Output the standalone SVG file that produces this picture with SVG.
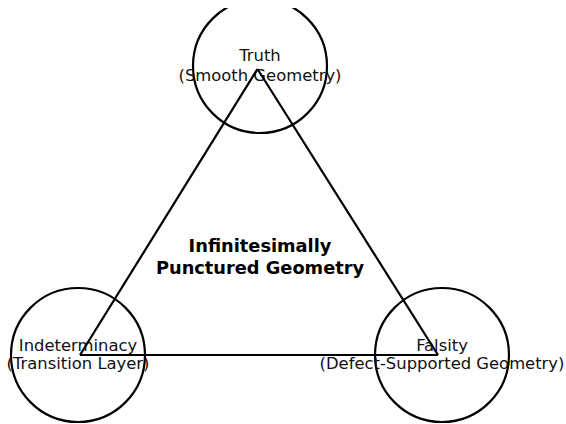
<svg xmlns="http://www.w3.org/2000/svg" width="566" height="424" viewBox="0 0 566 424">
<defs>
<style>
.circ{fill:none;stroke:#000;stroke-width:2.2}
.lbl{font-family:"DejaVu Sans",sans-serif;font-size:16.4px;fill:#111;text-anchor:middle}
.ctr{font-family:"DejaVu Sans",sans-serif;font-size:17.8px;font-weight:bold;fill:#000;text-anchor:middle}
.edge{stroke:#000;stroke-width:2.2;fill:none}
</style>
<clipPath id="ax"><rect x="0" y="8" width="566" height="416"/></clipPath>
</defs>
<rect width="566" height="424" fill="#fff"/>
<g id="truth">
<circle class="circ" cx="260" cy="66" r="67" clip-path="url(#ax)"/>
<text class="lbl" x="260" y="61">Truth</text>
<text class="lbl" x="260" y="81">(Smooth Geometry)</text>
</g>
<g id="indeterminacy">
<circle class="circ" cx="78" cy="355" r="67"/>
<text class="lbl" x="78" y="351">Indeterminacy</text>
<text class="lbl" x="78" y="369">(Transition Layer)</text>
</g>
<g id="falsity">
<circle class="circ" cx="442" cy="355" r="67"/>
<text class="lbl" x="442" y="351">Falsity</text>
<text class="lbl" x="442" y="369">(Defect-Supported Geometry)</text>
</g>
<g id="center">
<text class="ctr" x="260" y="252">Infinitesimally</text>
<text class="ctr" x="260" y="274">Punctured Geometry</text>
</g>
<g id="connectors">
<line class="edge" x1="257.5" y1="69" x2="80" y2="355"/>
<line class="edge" x1="257.5" y1="69" x2="438" y2="355"/>
<line class="edge" x1="80" y1="355" x2="438" y2="355"/>
</g>
</svg>
